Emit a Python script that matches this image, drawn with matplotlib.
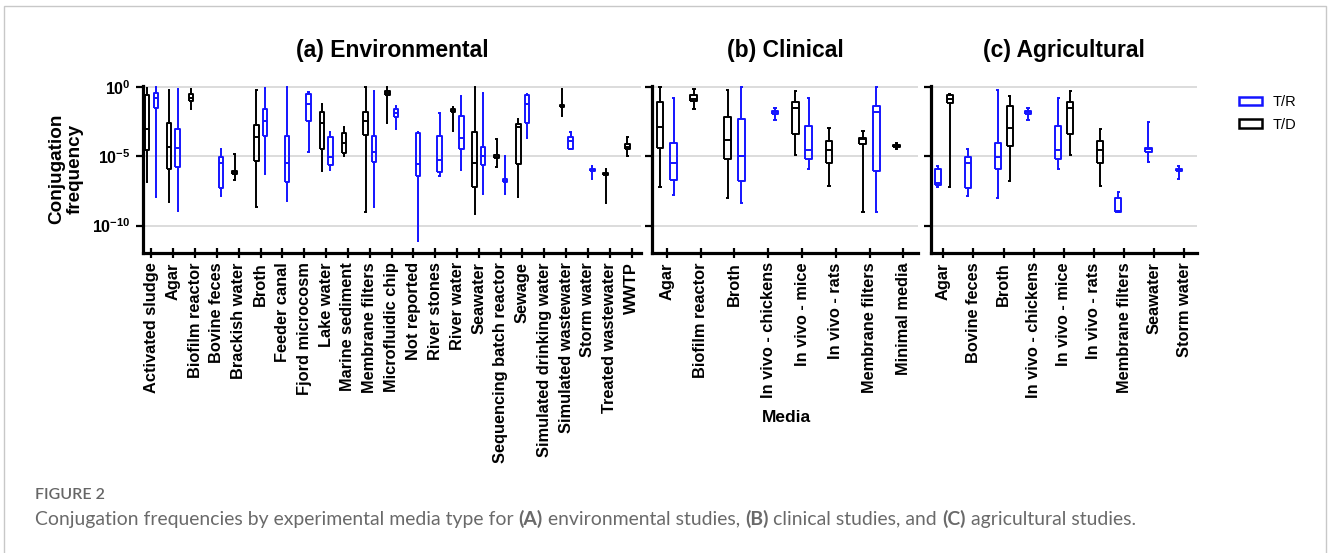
"""
Conjugation frequency by experimental media type, split into
environmental / clinical / agricultural studies (T/R vs T/D boxes).
"""
import matplotlib
matplotlib.use("Agg")
import matplotlib.pyplot as plt
from matplotlib.patches import Patch, Rectangle
from matplotlib.ticker import NullLocator

plt.rcParams["font.family"] = ["Liberation Sans", "DejaVu Sans"]
plt.rcParams["mathtext.fontset"] = "custom"
plt.rcParams["mathtext.rm"] = "Liberation Sans"
plt.rcParams["mathtext.bf"] = "Liberation Sans:bold"

BLUE = "#1414ff"

# --------------------------------------------------------------- the data
# every box is log10(frequency): [low whisker, q1, median, q3, high whisker]
# None = no studies for that media / ratio type
ENV_MEDIA = [
    "Activated sludge", "Agar", "Biofilm reactor", "Bovine feces",
    "Brackish water", "Broth", "Feeder canal", "Fjord microcosm",
    "Lake water", "Marine sediment", "Membrane filters", "Microfluidic chip",
    "Not reported", "River stones", "River water", "Seawater",
    "Sequencing batch reactor", "Sewage", "Simulated drinking water",
    "Simulated wastewater", "Storm water", "Treated wastewater", "WWTP",
]
ENV_TD = [
    [-6.9, -4.56, -3.07, -0.6, -0.12],
    [-8.32, -5.95, -4.32, -2.64, -0.24],
    [-1.61, -1.03, -0.79, -0.55, -0.17],
    None,
    [-6.71, -6.28, -6.16, -6.04, -4.84],
    [-8.7, -5.32, -3.6, -2.76, -0.24],
    None,
    None,
    [-6.04, -4.48, -2.64, -1.85, -1.27],
    [-4.99, -4.75, -4.08, -3.36, -2.93],
    [-9.04, -3.5, -2.47, -1.82, 0.0],
    [-2.59, -0.62, -0.43, -0.29, -0.05],
    None,
    None,
    [-3.17, -1.82, -1.73, -1.63, -1.49],
    [-9.16, -7.24, -5.47, -3.29, 0.0],
    [-5.8, -5.13, -5.04, -4.94, -3.79],
    [-7.96, -5.56, -2.93, -2.69, -2.3],
    None,
    [-2.11, -1.49, -1.39, -1.29, -0.19],
    None,
    [-8.35, -6.38, -6.28, -6.19, -5.95],
    [-4.99, -4.51, -4.32, -4.12, -3.6],
]
ENV_TR = [
    [-7.96, -1.51, -0.79, -0.43, 0.0],
    [-8.92, -5.76, -4.39, -3.05, -0.19],
    None,
    [-7.84, -7.31, -5.52, -5.08, -4.51],
    None,
    [-6.31, -3.53, -2.45, -1.63, -0.12],
    [-8.2, -6.9, -5.52, -3.55, 0.0],
    [-4.68, -2.47, -1.27, -0.55, -0.41],
    [-6.0, -5.64, -5.04, -3.6, -3.26],
    None,
    [-8.63, -5.4, -4.68, -3.55, -0.29],
    [-3.07, -2.2, -1.92, -1.63, -1.37],
    [-11.08, -6.43, -5.59, -3.36, -3.24],
    [-6.43, -6.12, -5.28, -3.55, -1.87],
    [-6.0, -4.51, -3.72, -2.11, -0.65],
    [-7.75, -5.64, -4.99, -4.32, -0.43],
    [-7.75, -6.9, -6.79, -6.67, -4.96],
    [-3.72, -2.64, -1.25, -0.58, -0.53],
    None,
    [-4.51, -4.46, -3.93, -3.6, -3.26],
    [-6.64, -6.09, -6.02, -5.95, -5.71],
    None,
    None,
]

CLIN_MEDIA = [
    "Agar", "Biofilm reactor", "Broth", "In vivo - chickens",
    "In vivo - mice", "In vivo - rats", "Membrane filters", "Minimal media",
]
CLIN_TD = [
    [-7.24, -4.39, -2.88, -1.13, -0.05],
    [-1.61, -1.06, -0.89, -0.58, -0.17],
    [-7.99, -5.2, -3.84, -2.16, -0.24],
    None,
    [-4.92, -3.43, -1.51, -1.13, -0.29],
    [-7.12, -5.52, -4.56, -3.91, -3.0],
    [-9.04, -4.12, -3.79, -3.67, -3.17],
    [-4.46, -4.35, -4.27, -4.18, -4.08],
]
CLIN_TR = [
    [-7.82, -6.71, -5.47, -4.03, -0.84],
    None,
    [-8.35, -6.76, -4.99, -2.35, 0.0],
    [-2.4, -1.97, -1.85, -1.73, -1.51],
    [-5.95, -5.2, -4.56, -2.83, -0.84],
    None,
    [-9.04, -6.04, -1.85, -1.37, 0.0],
    None,
]

AGRI_MEDIA = [
    "Agar", "Bovine feces", "Broth", "In vivo - chickens", "In vivo - mice",
    "In vivo - rats", "Membrane filters", "Seawater", "Storm water",
]
AGRI_TR = [
    [-7.24, -7.07, -6.95, -5.9, -5.71],
    [-7.84, -7.31, -5.52, -5.08, -4.51],
    [-7.99, -5.95, -5.04, -4.03, -0.24],
    [-2.4, -1.97, -1.85, -1.73, -1.51],
    [-5.95, -5.2, -4.56, -2.83, -0.84],
    None,
    [-9.0, -9.0, -8.97, -8.03, -7.6],
    [-5.4, -4.68, -4.51, -4.39, -2.52],
    [-6.64, -6.09, -6.02, -5.95, -5.71],
]
AGRI_TD = [
    [-7.24, -1.15, -0.86, -0.58, -0.53],
    None,
    [-6.76, -4.27, -2.95, -1.39, -0.65],
    None,
    [-4.92, -3.43, -1.51, -1.13, -0.29],
    [-7.12, -5.52, -4.56, -3.91, -3.05],
    None,
    None,
    None,
]

TITLES = ["(a) Environmental", "(b) Clinical", "(c) Agricultural"]
SERIES_LABELS = ["T/R", "T/D"]

# ------------------------------------------------------------------ helpers
W, H = 1328, 553


def add_axes_px(x0, x1, y0=86.0, y1=253.3):
    return fig.add_axes([x0 / W, 1 - y1 / H, (x1 - x0) / W, (y1 - y0) / H])


def draw_boxes(ax, rows, offset, color):
    stats, pos = [], []
    for i, row in enumerate(rows):
        if row is None:
            continue
        lo, q1, med, q3, hi = (10.0 ** v for v in row)
        stats.append(dict(whislo=lo, q1=q1, med=med, q3=q3, whishi=hi))
        pos.append(i + offset)
    line = dict(color=color, linewidth=1.4, solid_capstyle="butt")
    ax.bxp(stats, positions=pos, widths=0.2, capwidths=0.1,
           showfliers=False, manage_ticks=False,
           boxprops=line, whiskerprops=line, capprops=line,
           medianprops=line)


def style_axes(ax, media, xlim, show_ylabels):
    ax.set_yscale("log")
    ax.set_ylim(1e-12, 10 ** 0.05)
    ax.set_yticks([1, 1e-5, 1e-10])
    ax.yaxis.set_minor_locator(NullLocator())
    ax.set_xlim(*xlim)
    ax.set_xticks(range(len(media)))
    ax.set_xticklabels(media, rotation=90, fontsize=11.8, fontweight="bold")
    ax.grid(axis="y", color="#d6d6d6", linewidth=1.2)
    ax.set_axisbelow(True)
    for side in ("top", "right"):
        ax.spines[side].set_visible(False)
    for side in ("left", "bottom"):
        ax.spines[side].set_linewidth(2.3)
    ax.tick_params(axis="x", direction="inout", length=7, width=1.6, pad=3)
    ax.tick_params(axis="y", direction="out", length=5, width=1.6)
    if show_ylabels:
        ax.set_yticklabels([r"$\mathbf{10^{0}}$", r"$\mathbf{10^{-5}}$",
                            r"$\mathbf{10^{-10}}$"], fontsize=11.5)
    else:
        ax.tick_params(axis="y", labelleft=False)


# -------------------------------------------------------------------- draw
fig = plt.figure(figsize=(W / 100, H / 100), dpi=100)

ax_env = add_axes_px(142.7, 641.0)
ax_clin = add_axes_px(652.3, 918.3)
ax_agri = add_axes_px(930.7, 1197.0)

draw_boxes(ax_env, ENV_TD, -0.19, "black")
draw_boxes(ax_env, ENV_TR, 0.2, BLUE)
style_axes(ax_env, ENV_MEDIA, (-0.4, 22.43), True)

draw_boxes(ax_clin, CLIN_TD, -0.2, "black")
draw_boxes(ax_clin, CLIN_TR, 0.2, BLUE)
style_axes(ax_clin, CLIN_MEDIA, (-0.43, 7.44), False)

draw_boxes(ax_agri, AGRI_TR, -0.19, BLUE)
draw_boxes(ax_agri, AGRI_TD, 0.21, "black")
style_axes(ax_agri, AGRI_MEDIA, (-0.42, 8.42), False)

for ax, title in zip((ax_env, ax_clin, ax_agri), TITLES):
    box = ax.get_position()
    fig.text((box.x0 + box.x1) / 2, 1 - 50 / H, title, ha="center",
             va="center", fontsize=16.5, fontweight="bold")

fig.text(66 / W, 1 - 169 / H, "Conjugation\nfrequency", rotation=90,
         ha="center", va="center", fontsize=13.6, fontweight="bold",
         linespacing=1.15, multialignment="center")
fig.text(786 / W, 1 - 418 / H, "Media", ha="center", va="center",
         fontsize=12.5, fontweight="bold")

handles = [Patch(facecolor="white", edgecolor=BLUE, linewidth=1.8),
           Patch(facecolor="white", edgecolor="black", linewidth=1.8)]
fig.legend(handles, SERIES_LABELS, loc="upper left",
           bbox_to_anchor=(1226 / W, 1 - 82 / H), frameon=False,
           fontsize=10.5, handlelength=1.6, handleheight=0.55,
           handletextpad=0.7, labelspacing=0.6)

# light frame round the figure, as on the journal page
fig.add_artist(Rectangle((4 / W, -0.05), 1322 / W, 1.05 - 6 / H,
                         transform=fig.transFigure, fill=False,
                         edgecolor="#c8c8c8", linewidth=1.0))

# ------------------------------------------------------------------ caption
fig.text(35 / W, 1 - 495 / H, "FIGURE 2", ha="left", va="center",
         fontsize=11.5, color="#666666", family=["Lato", "DejaVu Sans"],
         fontweight="semibold")

caption_parts = [
    ("Conjugation frequencies by experimental media type for ", "normal"),
    ("(A)", "bold"),
    (" environmental studies, ", "normal"),
    ("(B)", "bold"),
    (" clinical studies, and ", "normal"),
    ("(C)", "bold"),
    (" agricultural studies.", "normal"),
]
renderer = fig.canvas.get_renderer()
size = 13.5
texts = [fig.text(0, 1 - 519 / H, s, ha="left", va="center", fontsize=size,
                  fontweight=wt, color="#6a6a6a",
                  family=["Lato", "DejaVu Sans"])
         for s, wt in caption_parts]
total = sum(t.get_window_extent(renderer).width for t in texts)
size *= 1099 / total
x = 35.0
for t in texts:
    t.set_fontsize(size)
    t.set_x(x / W)
    x += t.get_window_extent(renderer).width

fig.savefig("out.png", dpi=100)
